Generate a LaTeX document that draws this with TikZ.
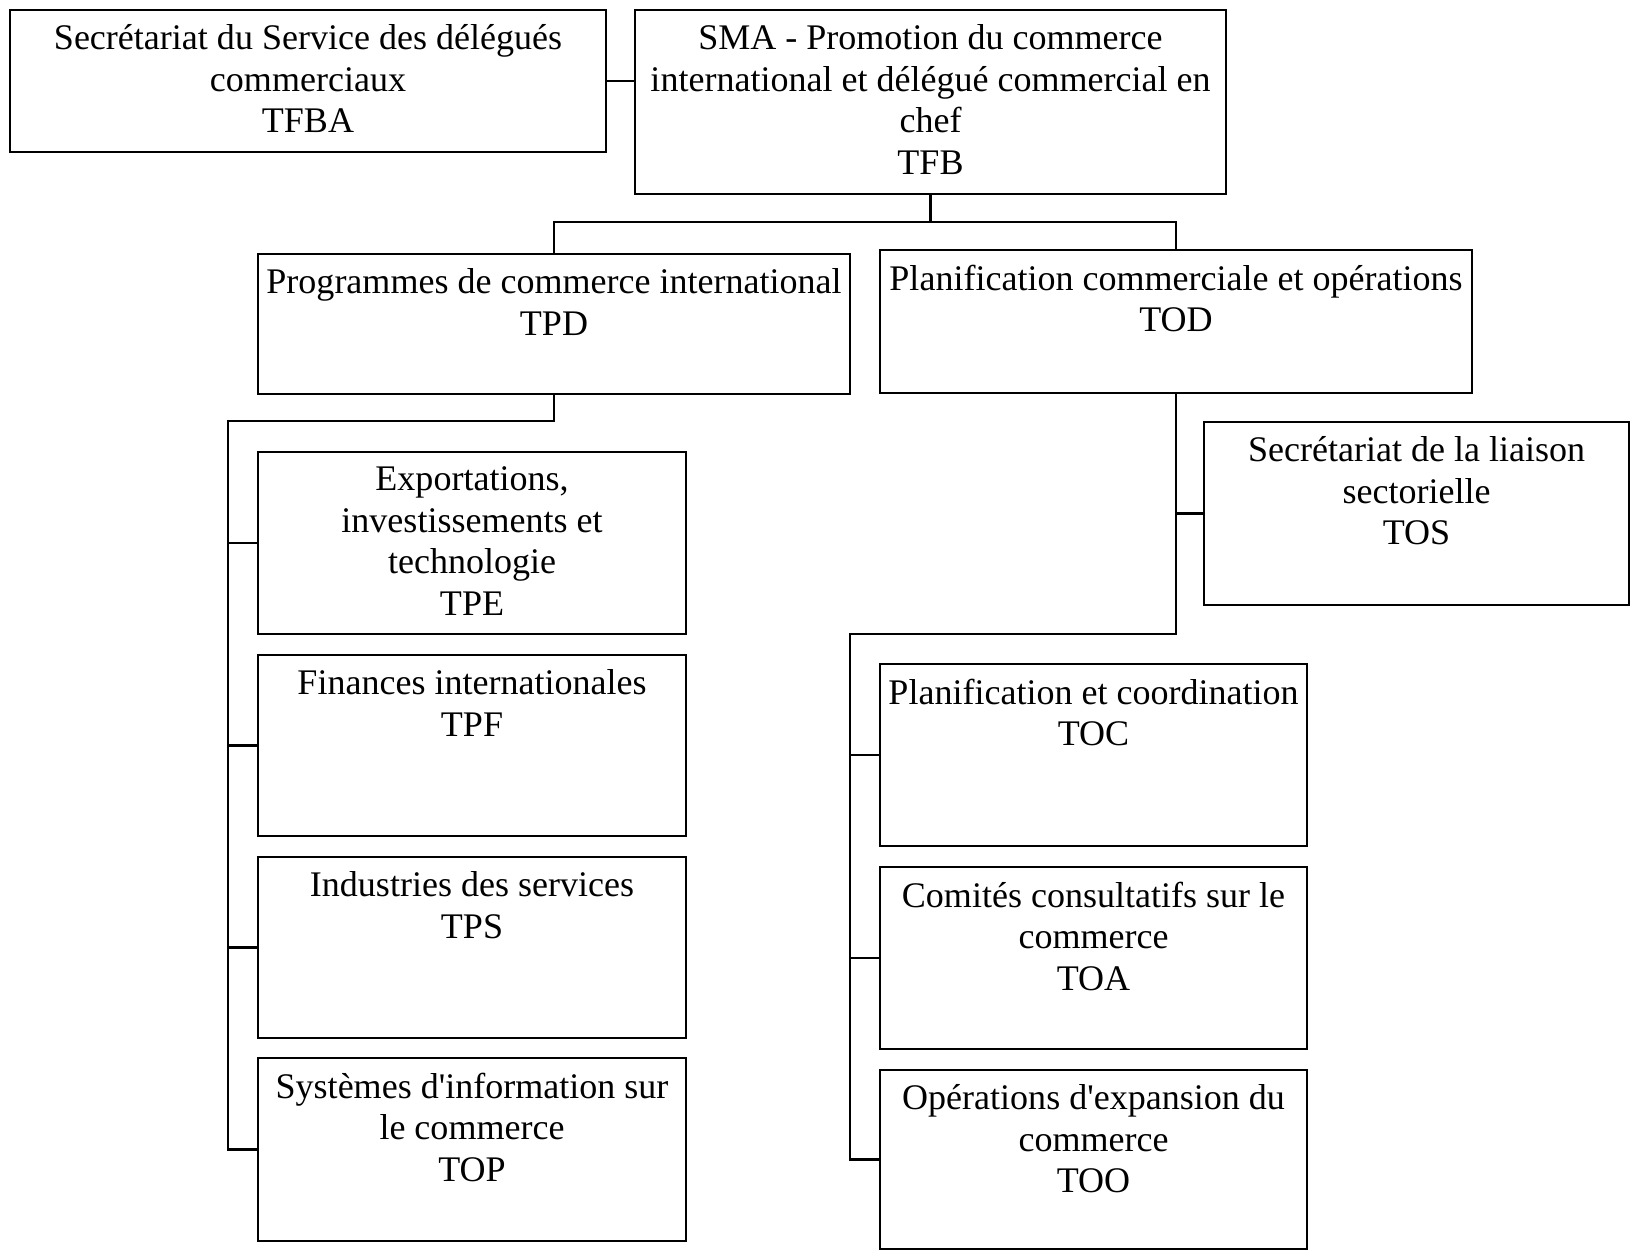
\documentclass[tikz,border=0pt]{standalone}
\usepackage{fontspec}
\setmainfont{Liberation Serif}
\usetikzlibrary{positioning}

\tikzset{
  unit/.style={draw, line width=1.2pt, anchor=north west, inner sep=0pt},
  unittext/.style={anchor=north, align=center, inner sep=0pt, yshift=-8.8pt,
    font=\fontsize{20.5}{23.6}\selectfont, execute at begin node=\strut},
  link/.style={line width=1.2pt},
}

\begin{document}
\begin{tikzpicture}[x=0.02cm, y=-0.02cm]
  \useasboundingbox (0,0) rectangle (1630,1251);

  % top level
  \node[unit, minimum width=11.92cm, minimum height=2.84cm,
    label={[unittext]north:{Secrétariat du Service des délégués\\commerciaux\\TFBA}}] (tfba) at (9,9) {};
  \node[unit, minimum width=11.82cm, minimum height=3.68cm,
    label={[unittext]north:{SMA - Promotion du commerce\\international et délégué commercial en\\chef\\TFB}}] (tfb) at (634,9) {};

  % directorates
  \node[unit, minimum width=11.84cm, minimum height=2.80cm,
    label={[unittext]north:{Programmes de commerce international\\TPD}}] (tpd) at (257,253) {};
  \node[unit, minimum width=11.84cm, minimum height=2.86cm,
    label={[unittext]north:{Planification commerciale et opérations\\TOD}}] (tod) at (879,249) {};

  % TPD divisions
  \node[unit, minimum width=8.56cm, minimum height=3.64cm,
    label={[unittext]north:{Exportations,\\investissements et\\technologie\\TPE}}] (tpe) at (257,451) {};
  \node[unit, minimum width=8.56cm, minimum height=3.62cm,
    label={[unittext]north:{Finances internationales\\TPF}}] (tpf) at (257,654) {};
  \node[unit, minimum width=8.56cm, minimum height=3.62cm,
    label={[unittext]north:{Industries des services\\TPS}}] (tps) at (257,856) {};
  \node[unit, minimum width=8.56cm, minimum height=3.66cm,
    label={[unittext]north:{Systèmes d\textquotesingle information sur\\le commerce\\TOP}}] (top) at (257,1057) {};

  % TOD divisions
  \node[unit, minimum width=8.50cm, minimum height=3.66cm,
    label={[unittext]north:{Secrétariat de la liaison\\sectorielle\\TOS}}] (tos) at (1203,421) {};
  \node[unit, minimum width=8.54cm, minimum height=3.64cm,
    label={[unittext]north:{Planification et coordination\\TOC}}] (toc) at (879,663) {};
  \node[unit, minimum width=8.54cm, minimum height=3.64cm,
    label={[unittext]north:{Comités consultatifs sur le\\commerce\\TOA}}] (toa) at (879,866) {};
  \node[unit, minimum width=8.54cm, minimum height=3.58cm,
    label={[unittext]north:{Opérations d\textquotesingle expansion du\\commerce\\TOO}}] (too) at (879,1069) {};

  % connectors
  \coordinate (bar) at (929,222);
  \coordinate (lspine) at (228,421);
  \coordinate (rspine) at (850,634);
  \draw[link] (tfba.east) -- (tfba.east -| tfb.west);
  \draw[link] (tfb.south) -- (tfb.south |- bar);
  \draw[link] (tpd.north) |- (bar) -| (tod.north);
  \draw[link] (tpd.south) |- (lspine) |- (top.west);
  \foreach \n in {tpe,tpf,tps}
    \draw[link] (lspine |- \n.west) -- (\n.west);
  \draw[link] (tod.south) |- (rspine) |- (too.west);
  \draw[link] (tos.west) -| (tod.south);
  \foreach \n in {toc,toa}
    \draw[link] (rspine |- \n.west) -- (\n.west);
\end{tikzpicture}
\end{document}
